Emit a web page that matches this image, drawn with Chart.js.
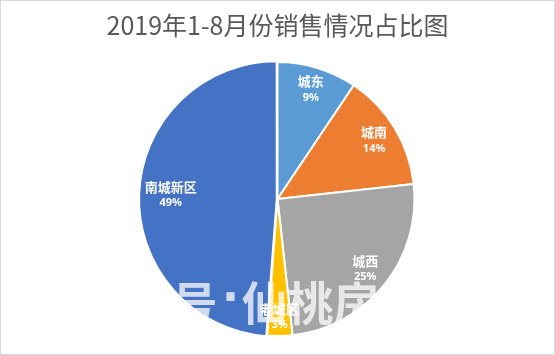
<!DOCTYPE html>
<html>
<head>
<meta charset="utf-8">
<script src="https://cdn.jsdelivr.net/npm/chart.js@4/dist/chart.umd.min.js"></script>
<style>
  html, body { margin: 0; padding: 0; background: #fff; }
  #wrap { width: 555px; height: 355px; position: relative; }
</style>
</head>
<body>
<div id="wrap"><canvas id="c" width="555" height="355"></canvas></div>
<script>
const titleText = '2019年1-8月份销售情况占比图';
const categories = ['城东', '城南', '城西', '老城区', '南城新区'];
const shares = [9.4, 13.85, 25.0, 2.95, 48.8];
const sliceColors = ['#5B9BD5', '#ED7D31', '#A5A5A5', '#FFC000', '#4472C4'];
const sliceOffsets = [0, 0, 0, 0, 3];
const watermarkLeft = '搜狐号';
const watermarkDot = '·';
const watermarkRight = '仙桃房产';

const frameAndWatermark = {
  id: 'frameAndWatermark',
  beforeDraw(chart) {
    const ctx = chart.ctx;
    ctx.save();
    ctx.fillStyle = '#ffffff';
    ctx.fillRect(0, 0, chart.width, chart.height);
    ctx.restore();
  },
  afterDatasetsDraw(chart) {
    const ctx = chart.ctx;
    const meta = chart.getDatasetMeta(0);
    const total = shares.reduce((a, b) => a + b, 0);
    // watermark (semi-transparent white, only visible over the pie)
    ctx.save();
    ctx.fillStyle = 'rgba(255,255,255,0.75)';
    ctx.textBaseline = 'middle';
    const arc0 = meta.data[0];
    const wy = arc0.y + 104;
    ctx.font = 'bold 46px "Noto Sans CJK SC"';
    ctx.textAlign = 'right';
    ctx.fillText(watermarkLeft, arc0.x - 60, wy);
    ctx.textAlign = 'left';
    ctx.fillText(watermarkRight, arc0.x - 36, wy);
    ctx.font = 'bold 46px "DejaVu Sans"';
    ctx.textAlign = 'center';
    ctx.fillText(watermarkDot, arc0.x - 47, wy - 2);
    ctx.restore();

    // data labels (inside end)
    ctx.save();
    ctx.fillStyle = '#ffffff';
    ctx.textAlign = 'center';
    ctx.textBaseline = 'middle';
    meta.data.forEach((arc, i) => {
      const p = arc.getProps(['x', 'y', 'startAngle', 'endAngle', 'outerRadius'], true);
      const mid = (p.startAngle + p.endAngle) / 2;
      const off = sliceOffsets[i] || 0;
      const cx = p.x + Math.cos(mid) * off;
      const cy = p.y + Math.sin(mid) * off;
      const name = categories[i];
      const pct = Math.round(shares[i] / total * 100) + '%';
      ctx.font = 'bold 13px "Noto Sans CJK SC"';
      const w1 = ctx.measureText(name).width;
      ctx.font = 'bold 11px "Noto Sans"';
      const w2 = ctx.measureText(pct).width;
      const halfW = Math.max(w1, w2) / 2;
      const halfH = 15;
      const proj = Math.abs(Math.cos(mid)) * halfW * 1.1 + Math.abs(Math.sin(mid)) * halfH;
      const r = p.outerRadius - 4 - proj;
      const lx = cx + Math.cos(mid) * r;
      const ly = cy + Math.sin(mid) * r;
      ctx.font = 'bold 13px "Noto Sans CJK SC"';
      ctx.fillText(name, lx, ly - 8);
      ctx.font = 'bold 11px "Noto Sans"';
      ctx.fillText(pct, lx, ly + 8);
    });
    ctx.restore();
  },
  afterDraw(chart) {
    const ctx = chart.ctx;
    ctx.save();
    ctx.strokeStyle = '#D9D9D9';
    ctx.lineWidth = 1;
    ctx.strokeRect(0.5, 0.5, chart.width - 1, chart.height - 1);
    ctx.restore();
  }
};

new Chart(document.getElementById('c'), {
  type: 'pie',
  data: {
    labels: categories,
    datasets: [{
      data: shares,
      backgroundColor: sliceColors,
      borderColor: '#ffffff',
      borderWidth: 2,
      offset: sliceOffsets,
      hoverOffset: 0,
      clip: false
    }]
  },
  options: {
    responsive: false,
    animation: false,
    radius: 137,
    layout: { padding: { top: 0, bottom: 19, left: 0, right: 0 } },
    plugins: {
      legend: { display: false },
      tooltip: { enabled: false },
      title: {
        display: true,
        text: titleText,
        color: '#595959',
        font: { family: '"Noto Sans CJK SC"', size: 25, weight: 'normal', lineHeight: 1.2 },
        padding: { top: 10, bottom: 22 }
      }
    }
  },
  plugins: [frameAndWatermark]
});
</script>
</body>
</html>
